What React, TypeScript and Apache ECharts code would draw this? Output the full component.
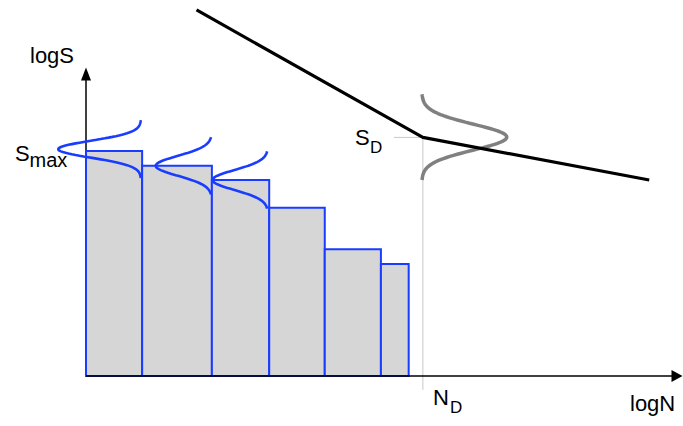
import React, { useEffect, useRef } from "react";
import * as echarts from "echarts";

// Stepped S-N histogram (logN block edges and logS levels)
const barEdges = [0, 0.95, 2.13, 3.10, 4.04, 4.99, 5.46];
const barLevels = [7.45, 6.96, 6.49, 5.57, 4.2, 3.71];

// Blue scatter bells on the first three blocks
const bellBase = [0.93, 2.13, 3.08];
const bellCenter = [7.51, 6.96, 6.49];
const bellAmp = [1.40, 0.95, 0.94];
const bellSigma = [0.28, 0.33, 0.33];
const bellHalf = [0.96, 0.95, 0.95];

// Fatigue limit
const ND = 5.70;
const SD = 7.90;
const sdTickStart = 5.21;
const ndLineBottom = -0.46;

// Grey bell at the knee
const greyBase = 5.68;
const greyCenter = 7.91;
const greyAmp = 1.44;
const greySigma = 0.43;
const greyHalf = 1.42;

// Black S-N curve
const snN = [1.87, ND, 9.53];
const snS = [12.12, SD, 6.49];

// Axis ranges
const xMin = -1.455;
const xMax = 10;
const yMin = 0;
const yMax = 10;

const BLUE = "#1a3cff";
const FONT = "'Liberation Sans', Arial, Helvetica, sans-serif";

function bell(base: number, center: number, amp: number, sigma: number, half: number, dir: number) {
  const pts: number[][] = [];
  const n = 80;
  for (let i = 0; i <= n; i++) {
    const d = -half + (2 * half * i) / n;
    const x = base + dir * amp * Math.exp(-(d * d) / (2 * sigma * sigma));
    pts.push([x, center - d]);
  }
  return pts;
}

export default function App() {
  const ref = useRef<HTMLDivElement>(null);
  useEffect(() => {
    if (!ref.current) return;
    const chart = echarts.init(ref.current, null, { renderer: "svg" });
    const bars = barLevels.map((h, i) => [barEdges[i], barEdges[i + 1], h]);

    const series: any[] = [
      {
        type: "line",
        data: [[sdTickStart, SD], [ND, SD]],
        showSymbol: false,
        clip: false,
        lineStyle: { color: "#c8c8c8", width: 1 },
        z: 1,
        markLine: {
          silent: true,
          symbol: ["none", "triangle"],
          symbolSize: [12, 11],
          label: { show: false },
          lineStyle: { color: "#000", width: 1.5, type: "solid" },
          emphasis: { disabled: true },
          data: [[{ coord: [0, 0] }, { coord: [xMax, 0] }]],
        },
      },
      {
        type: "line",
        data: [[ND, SD], [ND, ndLineBottom]],
        showSymbol: false,
        clip: false,
        lineStyle: { color: "#c8c8c8", width: 1 },
        z: 1,
      },
      {
        type: "custom",
        data: bars,
        encode: { x: [0, 1], y: 2 },
        clip: false,
        z: 3,
        renderItem: (params: any, api: any) => {
          const x0 = api.value(0);
          const x1 = api.value(1);
          const h = api.value(2);
          const p0 = api.coord([x0, h]);
          const p1 = api.coord([x1, 0]);
          return {
            type: "rect",
            shape: { x: p0[0], y: p0[1], width: p1[0] - p0[0], height: p1[1] - p0[1] },
            style: { fill: "#d6d6d6", stroke: BLUE, lineWidth: 2 },
          };
        },
      },
      ...bellBase.map((b, i) => ({
        type: "line",
        data: bell(b, bellCenter[i], bellAmp[i], bellSigma[i], bellHalf[i], -1),
        showSymbol: false,
        clip: false,
        smooth: false,
        lineStyle: { color: BLUE, width: 2.6 },
        z: 4,
      })),
      {
        type: "line",
        data: bell(greyBase, greyCenter, greyAmp, greySigma, greyHalf, 1),
        showSymbol: false,
        clip: false,
        lineStyle: { color: "#808080", width: 3.5 },
        z: 4,
      },
      {
        type: "line",
        data: snN.map((n, i) => [n, snS[i]]),
        showSymbol: false,
        clip: false,
        lineStyle: { color: "#000", width: 3.2 },
        z: 5,
      },
    ];

    const txt = (text: string, x: number, y: number, size: number) => ({
      type: "text",
      x,
      y,
      style: {
        text,
        font: `${size}px ${FONT}`,
        fill: "#000",
        textAlign: "left",
        textVerticalAlign: "middle",
      },
      z: 10,
    });

    chart.setOption({
      animation: false,
      backgroundColor: "#fff",
      grid: { left: 0, right: 6, top: 74, bottom: 50 },
      xAxis: {
        type: "value",
        min: xMin,
        max: xMax,
        axisLine: { show: false },
        axisTick: { show: false },
        axisLabel: { show: false },
        splitLine: { show: false },
      },
      yAxis: {
        type: "value",
        min: yMin,
        max: yMax,
        axisLine: {
          show: true,
          onZero: true,
          symbol: ["none", "triangle"],
          symbolSize: [10, 13],
          lineStyle: { color: "#000", width: 1.5 },
        },
        axisTick: { show: false },
        axisLabel: { show: false },
        splitLine: { show: false },
      },
      series,
      graphic: [
        txt("logS", 30, 55.4, 22),
        txt("logN", 630, 403.8, 22),
        txt("S", 15, 153.8, 22),
        txt("max", 29.5, 160, 20),
        txt("S", 355, 137, 22),
        txt("D", 370, 147.2, 17),
        txt("N", 433, 397, 22),
        txt("D", 450, 407.2, 17),
      ],
    });
    return () => chart.dispose();
  }, []);
  return (
    <div
      ref={ref}
      style={{ position: "absolute", left: 0, top: 0, width: 683, height: 426 }}
    />
  );
}
